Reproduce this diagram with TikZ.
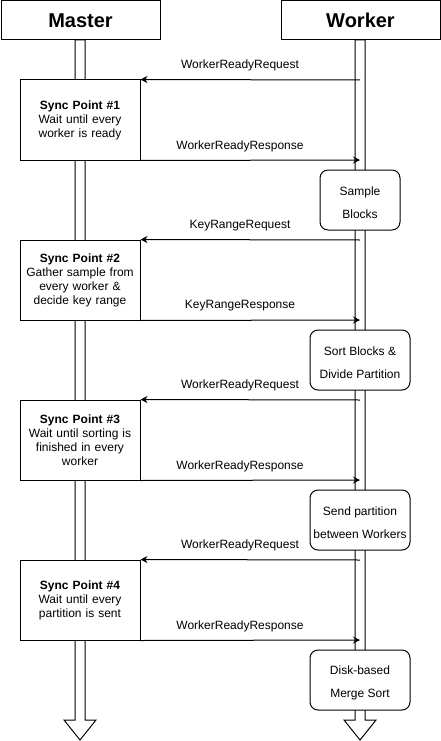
\documentclass[tikz,border=0pt]{standalone}
\usepackage{fontspec}
\setmainfont{Liberation Sans}
\usetikzlibrary{arrows.meta}
\begin{document}
\begin{tikzpicture}[x=1pt,y=-1pt,line width=1pt,
  header/.style={draw,fill=white,minimum width=159pt,minimum height=39pt,inner sep=0pt,font=\fontsize{20}{24}\selectfont\bfseries},
  syncbox/.style={draw,fill=white,minimum width=120pt,minimum height=80pt,text width=118pt,align=center,inner sep=0pt,font=\fontsize{12}{14}\selectfont},
  taskbox/.style={draw,fill=white,rounded corners=8pt,minimum height=60pt,inner sep=0pt},
  tasktext/.style={align=center,inner sep=0pt,font=\fontsize{12}{23}\selectfont},
  msg/.style={-{Stealth[length=7pt,width=7pt]},line width=1pt},
  lbl/.style={inner sep=0pt,font=\fontsize{12}{14}\selectfont},
  lifeline/.style={draw,fill=white,line width=1pt,line join=miter}]
\useasboundingbox (0,0) rectangle (441,741);

% lifelines
\draw[lifeline] (75,40) -- (75,720) -- (64,720) -- (80,740) -- (96,720) -- (85,720) -- (85,40) -- cycle;
\draw[lifeline] (355,40) -- (355,720) -- (344,720) -- (360,740) -- (376,720) -- (365,720) -- (365,40) -- cycle;

% headers
\node[header] (master) at (80.5,20.5) {Master};
\node[header] (worker) at (360.5,20.5) {Worker};

% sync points
\node[syncbox] (s1) at (80,120) {\textbf{Sync Point \#1}\\Wait until every\\worker is ready};
\node[syncbox] (s2) at (80,280) {\textbf{Sync Point \#2}\\Gather sample from\\every worker \&\\decide key range};
\node[syncbox] (s3) at (80,440) {\textbf{Sync Point \#3}\\Wait until sorting is\\finished in every\\worker};
\node[syncbox] (s4) at (80,600) {\textbf{Sync Point \#4}\\Wait until every\\partition is sent};

% worker tasks
\node[taskbox,minimum width=80pt] (t1) at (360,200) {};
\node[taskbox,minimum width=100pt] (t2) at (360,360) {};
\node[taskbox,minimum width=100pt] (t3) at (360,520) {};
\node[taskbox,minimum width=100pt] (t4) at (360,680) {};
\node[tasktext] (tt1) at ([yshift=-3pt]t1.center) {Sample\\Blocks};
\node[tasktext] (tt2) at ([yshift=-3pt]t2.center) {Sort Blocks \&\\Divide Partition};
\node[tasktext] (tt3) at ([yshift=-3pt]t3.center) {Send partition\\between Workers};
\node[tasktext] (tt4) at ([yshift=-3pt]t4.center) {Disk-based\\Merge Sort};

% points on worker lifeline
\coordinate (q1) at (360,80);
\coordinate (r1) at (360,160);
\coordinate (q2) at (360,240);
\coordinate (r2) at (360,320);
\coordinate (q3) at (360,400);
\coordinate (r3) at (360,480);
\coordinate (q4) at (360,560);
\coordinate (r4) at (360,640);

% messages
\draw[msg] (q1) -- (s1.north east);
\draw[msg] (s1.south east) -- (r1);
\draw[msg] (q2) -- (s2.north east);
\draw[msg] (s2.south east) -- (r2);
\draw[msg] (q3) -- (s3.north east);
\draw[msg] (s3.south east) -- (r3);
\draw[msg] (q4) -- (s4.north east);
\draw[msg] (s4.south east) -- (r4);

% labels
\node[lbl] (l1) at (240,65) {WorkerReadyRequest};
\node[lbl] (l2) at (240,146) {WorkerReadyResponse};
\node[lbl] (l3) at (240,226) {KeyRangeRequest};
\node[lbl] (l4) at (240,306) {KeyRangeResponse};
\node[lbl] (l5) at (240,385) {WorkerReadyRequest};
\node[lbl] (l6) at (240,466) {WorkerReadyResponse};
\node[lbl] (l7) at (240,545) {WorkerReadyRequest};
\node[lbl] (l8) at (240,626) {WorkerReadyResponse};
\end{tikzpicture}
\end{document}
